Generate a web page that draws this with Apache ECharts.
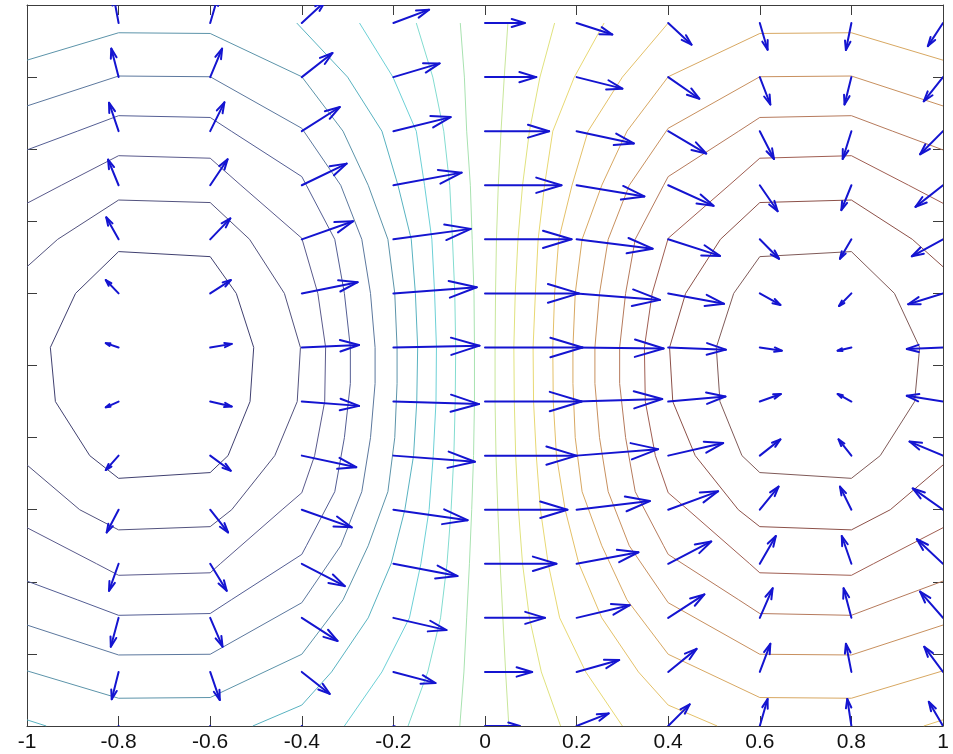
<!DOCTYPE html>
<html>
<head>
<meta charset="utf-8">
<script src="https://cdn.jsdelivr.net/npm/echarts/dist/echarts.min.js"></script>
<style>
  html, body { margin: 0; padding: 0; background: #ffffff; }
  #chart { width: 953px; height: 754px; }
</style>
</head>
<body>
<div id="chart"></div>
<script>
// Quiver grid: columns (x) and rows (y)
const gridX = [-0.8, -0.6, -0.4, -0.2, 0, 0.2, 0.4, 0.6, 0.8, 1.0];
const gridY = [0.95, 0.8, 0.65, 0.5, 0.35, 0.2, 0.05, -0.1, -0.25, -0.4, -0.55, -0.7, -0.85, -1.0];

// Vector x-components, one row per gridY entry, one value per gridX entry
const arrowU = [
  [-0.011, 0.017, 0.051, 0.078, 0.087, 0.078, 0.051, 0.017, -0.012, -0.033],
  [-0.016, 0.026, 0.067, 0.101, 0.112, 0.100, 0.068, 0.023, -0.015, -0.042],
  [-0.021, 0.031, 0.083, 0.125, 0.140, 0.125, 0.083, 0.031, -0.019, -0.050],
  [-0.023, 0.038, 0.098, 0.149, 0.167, 0.148, 0.099, 0.039, -0.022, -0.060],
  [-0.027, 0.044, 0.112, 0.169, 0.189, 0.166, 0.113, 0.042, -0.025, -0.068],
  [-0.028, 0.045, 0.122, 0.182, 0.205, 0.182, 0.122, 0.045, -0.027, -0.076],
  [-0.028, 0.047, 0.125, 0.188, 0.213, 0.190, 0.126, 0.048, -0.030, -0.079],
  [-0.028, 0.047, 0.125, 0.187, 0.211, 0.187, 0.125, 0.046, -0.030, -0.079],
  [-0.028, 0.045, 0.119, 0.178, 0.200, 0.178, 0.120, 0.045, -0.028, -0.073],
  [-0.026, 0.039, 0.109, 0.162, 0.180, 0.160, 0.109, 0.041, -0.025, -0.066],
  [-0.021, 0.036, 0.094, 0.140, 0.156, 0.135, 0.094, 0.035, -0.021, -0.057],
  [-0.017, 0.027, 0.078, 0.116, 0.131, 0.116, 0.079, 0.028, -0.017, -0.050],
  [-0.015, 0.021, 0.061, 0.092, 0.103, 0.093, 0.062, 0.023, -0.012, -0.041],
  [-0.011, 0.015, 0.046, 0.072, 0.076, 0.070, 0.047, 0.017, -0.009, -0.031]
];

// Vector y-components, same layout
const arrowV = [
  [0.075, 0.074, 0.060, 0.037, 0, -0.032, -0.060, -0.074, -0.075, -0.064],
  [0.079, 0.079, 0.067, 0.038, 0, -0.032, -0.060, -0.076, -0.076, -0.067],
  [0.079, 0.080, 0.067, 0.039, 0, -0.034, -0.062, -0.077, -0.077, -0.064],
  [0.071, 0.072, 0.060, 0.035, 0, -0.031, -0.057, -0.072, -0.069, -0.060],
  [0.061, 0.058, 0.050, 0.029, 0, -0.026, -0.046, -0.054, -0.054, -0.047],
  [0.037, 0.037, 0.031, 0.017, 0, -0.018, -0.029, -0.032, -0.035, -0.030],
  [0.012, 0.010, 0.007, 0.005, 0, -0.003, -0.006, -0.009, -0.009, -0.004],
  [-0.016, -0.014, -0.012, -0.007, 0, 0.007, 0.014, 0.021, 0.021, 0.016],
  [-0.040, -0.042, -0.032, -0.017, 0, 0.018, 0.035, 0.045, 0.045, 0.039],
  [-0.063, -0.063, -0.049, -0.029, 0, 0.024, 0.051, 0.064, 0.064, 0.059],
  [-0.075, -0.075, -0.062, -0.034, 0, 0.032, 0.062, 0.077, 0.077, 0.068],
  [-0.080, -0.080, -0.064, -0.034, 0, 0.035, 0.065, 0.082, 0.082, 0.073],
  [-0.076, -0.078, -0.061, -0.031, 0, 0.033, 0.064, 0.078, 0.078, 0.070],
  [-0.072, -0.075, -0.058, -0.033, 0, 0.035, 0.060, 0.075, 0.075, 0.067]
];

// Contour lines, lowest level first (left well), highest last (right well)
const contourL1 = [[-0.8,0.316],[-0.6,0.302],[-0.543,0.2],[-0.505,0.05],[-0.513,-0.1],[-0.561,-0.25],[-0.6,-0.297],[-0.8,-0.313],[-0.863,-0.25],[-0.938,-0.1],[-0.949,0.05],[-0.894,0.2],[-0.8,0.316]];
const contourL2 = [[-1,0.274],[-0.933,0.35],[-0.8,0.459],[-0.6,0.452],[-0.514,0.35],[-0.438,0.2],[-0.403,0.05],[-0.41,-0.1],[-0.459,-0.25],[-0.553,-0.4],[-0.6,-0.447],[-0.8,-0.456],[-0.885,-0.4],[-1,-0.276]];
const contourL3 = [[-1,0.45],[-0.925,0.5],[-0.8,0.582],[-0.6,0.575],[-0.533,0.5],[-0.4,0.353],[-0.365,0.2],[-0.348,0.05],[-0.35,-0.1],[-0.372,-0.25],[-0.4,-0.353],[-0.443,-0.4],[-0.578,-0.55],[-0.6,-0.575],[-0.8,-0.582],[-0.848,-0.55],[-1,-0.45]];
const contourL4 = [[-1,0.598],[-0.89,0.65],[-0.8,0.693],[-0.6,0.688],[-0.554,0.65],[-0.4,0.524],[-0.39,0.5],[-0.328,0.35],[-0.307,0.2],[-0.294,0.05],[-0.294,-0.05],[-0.307,-0.2],[-0.328,-0.35],[-0.39,-0.5],[-0.4,-0.524],[-0.554,-0.65],[-0.6,-0.688],[-0.8,-0.693],[-0.89,-0.65],[-1,-0.598]];
const contourL5 = [[-1,0.72],[-0.8,0.803],[-0.6,0.801],[-0.4,0.658],[-0.315,0.5],[-0.269,0.35],[-0.25,0.2],[-0.24,0.05],[-0.24,-0.05],[-0.25,-0.2],[-0.269,-0.35],[-0.315,-0.5],[-0.4,-0.658],[-0.6,-0.801],[-0.8,-0.803],[-1,-0.72]];
const contourL6 = [[-1,0.847],[-0.8,0.923],[-0.6,0.921],[-0.4,0.801],[-0.31,0.65],[-0.255,0.5],[-0.212,0.35],[-0.197,0.2],[-0.192,0.05],[-0.192,-0.05],[-0.197,-0.2],[-0.212,-0.35],[-0.255,-0.5],[-0.31,-0.65],[-0.4,-0.801],[-0.6,-0.921],[-0.8,-0.923],[-1,-0.847]];
const contourL7 = [[-0.411,0.95],[-0.30,0.8],[-0.225,0.65],[-0.19,0.5],[-0.161,0.35],[-0.152,0.2],[-0.147,0.05],[-0.149,-0.1],[-0.156,-0.25],[-0.175,-0.4],[-0.205,-0.55],[-0.255,-0.7],[-0.335,-0.85],[-0.4,-0.942],[-0.507,-1.0]];
const contourL7corner = [[-1,-0.983],[-0.958,-1.0]];
const contourM1 = [[-0.274,0.95],[-0.201,0.8],[-0.15,0.65],[-0.132,0.5],[-0.116,0.35],[-0.11,0.2],[-0.106,0.05],[-0.107,-0.1],[-0.113,-0.25],[-0.122,-0.4],[-0.14,-0.55],[-0.165,-0.7],[-0.225,-0.85],[-0.307,-1.0]];
const contourM2 = [[-0.15,0.95],[-0.114,0.8],[-0.09,0.65],[-0.077,0.5],[-0.071,0.35],[-0.066,0.2],[-0.064,0.05],[-0.065,-0.1],[-0.068,-0.25],[-0.074,-0.4],[-0.083,-0.55],[-0.097,-0.7],[-0.125,-0.85],[-0.168,-1.0]];
const contourM3 = [[-0.054,0.95],[-0.045,0.8],[-0.04,0.65],[-0.032,0.5],[-0.028,0.35],[-0.024,0.2],[-0.023,0.05],[-0.023,-0.1],[-0.025,-0.25],[-0.029,-0.4],[-0.034,-0.55],[-0.04,-0.7],[-0.046,-0.85],[-0.055,-1.0]];
const contourM4 = [[0.05,0.95],[0.042,0.8],[0.035,0.65],[0.029,0.5],[0.025,0.35],[0.023,0.2],[0.022,0.05],[0.022,-0.1],[0.024,-0.25],[0.028,-0.4],[0.033,-0.55],[0.039,-0.7],[0.045,-0.85],[0.052,-1.0]];
const contourM5 = [[0.152,0.95],[0.12,0.8],[0.097,0.65],[0.082,0.5],[0.072,0.35],[0.066,0.2],[0.063,0.05],[0.064,-0.1],[0.067,-0.25],[0.073,-0.4],[0.082,-0.55],[0.097,-0.7],[0.123,-0.85],[0.165,-1.0]];
const contourM6 = [[0.26,0.95],[0.195,0.8],[0.148,0.65],[0.13,0.5],[0.116,0.35],[0.11,0.2],[0.105,0.05],[0.106,-0.1],[0.112,-0.25],[0.121,-0.4],[0.138,-0.55],[0.163,-0.7],[0.22,-0.85],[0.30,-1.0]];
const contourR7 = [[0.40,0.95],[0.30,0.8],[0.225,0.65],[0.19,0.5],[0.161,0.35],[0.152,0.2],[0.148,0.05],[0.149,-0.1],[0.156,-0.25],[0.175,-0.4],[0.205,-0.55],[0.255,-0.7],[0.335,-0.85],[0.4,-0.942],[0.507,-1.0]];
const contourR7corner = [[1,-0.983],[0.958,-1.0]];
const contourR6 = [[1,0.847],[0.8,0.923],[0.6,0.921],[0.4,0.801],[0.31,0.65],[0.255,0.5],[0.212,0.35],[0.197,0.2],[0.192,0.05],[0.192,-0.05],[0.197,-0.2],[0.212,-0.35],[0.255,-0.5],[0.31,-0.65],[0.4,-0.801],[0.6,-0.921],[0.8,-0.923],[1,-0.847]];
const contourR5 = [[1,0.72],[0.8,0.803],[0.6,0.801],[0.4,0.658],[0.315,0.5],[0.269,0.35],[0.25,0.2],[0.24,0.05],[0.24,-0.05],[0.25,-0.2],[0.269,-0.35],[0.315,-0.5],[0.4,-0.658],[0.6,-0.801],[0.8,-0.803],[1,-0.72]];
const contourR4 = [[1,0.598],[0.89,0.65],[0.8,0.693],[0.6,0.688],[0.554,0.65],[0.4,0.524],[0.39,0.5],[0.328,0.35],[0.307,0.2],[0.294,0.05],[0.294,-0.05],[0.307,-0.2],[0.328,-0.35],[0.39,-0.5],[0.4,-0.524],[0.554,-0.65],[0.6,-0.688],[0.8,-0.693],[0.89,-0.65],[1,-0.598]];
const contourR3 = [[1,0.45],[0.925,0.5],[0.8,0.582],[0.6,0.575],[0.533,0.5],[0.4,0.353],[0.365,0.2],[0.348,0.05],[0.35,-0.1],[0.372,-0.25],[0.4,-0.353],[0.443,-0.4],[0.578,-0.55],[0.6,-0.575],[0.8,-0.582],[0.848,-0.55],[1,-0.45]];
const contourR2 = [[1,0.274],[0.933,0.35],[0.8,0.459],[0.6,0.452],[0.514,0.35],[0.438,0.2],[0.403,0.05],[0.41,-0.1],[0.459,-0.25],[0.553,-0.4],[0.6,-0.447],[0.8,-0.456],[0.885,-0.4],[1,-0.276]];
const contourR1 = [[0.8,0.316],[0.6,0.302],[0.543,0.2],[0.505,0.05],[0.513,-0.1],[0.561,-0.25],[0.6,-0.297],[0.8,-0.313],[0.863,-0.25],[0.938,-0.1],[0.949,0.05],[0.894,0.2],[0.8,0.316]];

// Each contour with its level index (0 = lowest)
const contourSet = [
  [contourL1, 0], [contourL2, 1], [contourL3, 2], [contourL4, 3], [contourL5, 4],
  [contourL6, 5], [contourL7, 6], [contourL7corner, 6], [contourM1, 7], [contourM2, 8],
  [contourM3, 9], [contourM4, 10], [contourM5, 11], [contourM6, 12], [contourR7, 13],
  [contourR7corner, 13], [contourR6, 14], [contourR5, 15], [contourR4, 16], [contourR3, 17],
  [contourR2, 18], [contourR1, 19]
];

// Muted jet-like palette for the 20 contour levels
const levelColors = [
  '#404070', '#52527e', '#5a5a8c', '#545e94', '#5c789e',
  '#5c94aa', '#58b2c0', '#6cd0d6', '#82dcd0', '#a8e2b0',
  '#c8e69a', '#e0e27e', '#e8d872', '#e4c068', '#d8a862',
  '#c8905e', '#b67a5c', '#a05e52', '#8c5048', '#805a58'
];

const xTicks = { min: -1, max: 1, step: 0.2 };
const yTicks = { min: -1, max: 1, step: 0.2 };

// Build quiver records [x, y, u, v]
const quiverData = [];
gridY.forEach((y, r) => {
  gridX.forEach((x, c) => {
    quiverData.push([x, y, arrowU[r][c], arrowV[r][c]]);
  });
});

const ARROW_COLOR = '#1414d0';

function renderArrow(params, api) {
  const x = api.value(0), y = api.value(1), u = api.value(2), v = api.value(3);
  const p0 = api.coord([x, y]);
  const p1 = api.coord([x + u, y + v]);
  const dx = p1[0] - p0[0], dy = p1[1] - p0[1];
  const bx = p1[0] - 0.33 * dx, by = p1[1] - 0.33 * dy;
  const wx = -dy * 0.1, wy = dx * 0.1;
  const style = { stroke: ARROW_COLOR, lineWidth: 2, fill: null, lineCap: 'round', lineJoin: 'round' };
  return {
    type: 'group',
    children: [
      { type: 'line', shape: { x1: p0[0], y1: p0[1], x2: p1[0], y2: p1[1] }, style: style },
      { type: 'polyline', shape: { points: [[bx + wx, by + wy], [p1[0], p1[1]], [bx - wx, by - wy]] }, style: style }
    ]
  };
}

const axisLineStyle = { color: '#3c3c3c', width: 1 };

function makeAxis(position, range, showLabels) {
  return {
    type: 'value',
    position: position,
    min: range.min,
    max: range.max,
    interval: range.step,
    axisLine: { show: true, onZero: false, lineStyle: axisLineStyle },
    axisTick: { show: true, inside: true, length: 10, lineStyle: axisLineStyle },
    splitLine: { show: false },
    axisLabel: {
      show: showLabels,
      color: '#111111',
      fontFamily: 'Liberation Sans, Arial, sans-serif',
      fontSize: 21,
      margin: 6,
      showMinLabel: true,
      showMaxLabel: true
    }
  };
}

const series = contourSet.map(([pts, level]) => ({
  type: 'line',
  xAxisIndex: 0,
  yAxisIndex: 0,
  data: pts,
  symbol: 'none',
  smooth: false,
  clip: true,
  silent: true,
  lineStyle: { color: levelColors[level], width: 1 },
  z: 2
}));

series.push({
  type: 'custom',
  xAxisIndex: 0,
  yAxisIndex: 0,
  data: quiverData,
  renderItem: renderArrow,
  clip: true,
  silent: true,
  z: 3
});

const chart = echarts.init(document.getElementById('chart'), null, { renderer: 'canvas' });
chart.setOption({
  animation: false,
  backgroundColor: '#ffffff',
  grid: { left: 27, right: 10, top: 5, bottom: 28, containLabel: false },
  xAxis: [
    makeAxis('bottom', xTicks, true),
    makeAxis('top', xTicks, false)
  ],
  yAxis: [
    makeAxis('left', yTicks, false),
    makeAxis('right', yTicks, false)
  ],
  series: series
});
</script>
</body>
</html>
